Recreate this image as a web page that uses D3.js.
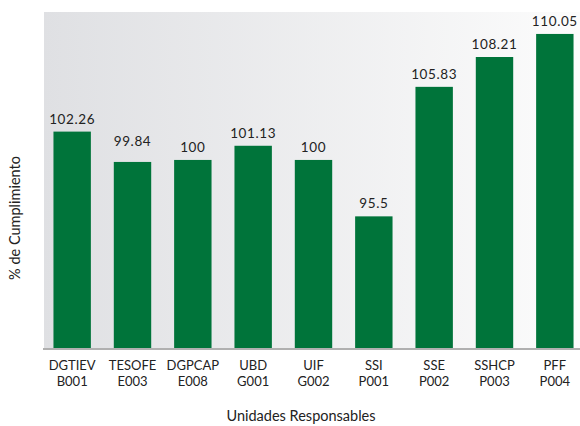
<!doctype html>
<html>
<head>
<meta charset="utf-8"/>
<script src="https://d3js.org/d3.v7.min.js"></script>
<style>
  body { margin: 0; background: #fff; }
  text { font-family: Lato, "Open Sans", sans-serif; fill: #222; }
</style>
</head>
<body>
<script>
  // datos
  var unidades = ["DGTIEV", "TESOFE", "DGPCAP", "UBD", "UIF", "SSI", "SSE", "SSHCP", "PFF"];
  var programas = ["B001", "E003", "E008", "G001", "G002", "P001", "P002", "P003", "P004"];
  var cumplimiento = [102.26, 99.84, 100, 101.13, 100, 95.5, 105.83, 108.21, 110.05];
  var etiquetas = ["102.26", "99.84", "100", "101.13", "100", "95.5", "105.83", "108.21", "110.05"];

  var svg = d3.select("body").append("svg")
    .attr("width", 580)
    .attr("height", 426);

  var defs = svg.append("defs");
  var grad = defs.append("linearGradient").attr("id", "fondo")
    .attr("x1", "0%").attr("x2", "100%").attr("y1", "0%").attr("y2", "0%");
  grad.append("stop").attr("offset", "0%").attr("stop-color", "#dfe0e3");
  grad.append("stop").attr("offset", "100%").attr("stop-color", "#fcfcfc");

  var x = d3.scaleBand()
    .domain(unidades)
    .range([42, 585])
    .paddingInner(0.38)
    .paddingOuter(0.19);

  var y = d3.scaleLinear()
    .domain([85, 111.8])
    .range([348, 12]);

  // fondo
  svg.append("rect")
    .attr("x", 44).attr("y", 12)
    .attr("width", 536).attr("height", 336)
    .attr("fill", "url(#fondo)");

  // barras
  svg.selectAll("rect.barra")
    .data(cumplimiento)
    .enter()
    .append("rect")
    .attr("class", "barra")
    .attr("x", function(d, i){ return x(unidades[i]); })
    .attr("y", function(d){ return y(d); })
    .attr("width", x.bandwidth())
    .attr("height", function(d){ return y(85) - y(d); })
    .attr("fill", "#00743a");

  // valores (la etiqueta de TESOFE va un poco más arriba en el original)
  svg.selectAll("text.valor")
    .data(cumplimiento)
    .enter()
    .append("text")
    .attr("class", "valor")
    .attr("x", function(d, i){ return x(unidades[i]) + x.bandwidth() / 2; })
    .attr("y", function(d, i){ return y(d) - (i == 1 ? 16 : 8); })
    .attr("text-anchor", "middle")
    .attr("font-size", 13.5)
    .attr("letter-spacing", 0.6)
    .text(function(d, i){ return etiquetas[i]; });

  // eje x
  svg.append("line")
    .attr("x1", 43).attr("x2", 580)
    .attr("y1", 349).attr("y2", 349)
    .attr("stroke", "#b0b0b0")
    .attr("stroke-width", 2);

  var cats = svg.selectAll("text.cat")
    .data(unidades)
    .enter()
    .append("text")
    .attr("class", "cat")
    .attr("text-anchor", "middle")
    .attr("font-size", 13);
  cats.append("tspan")
    .attr("x", function(d){ return x(d) + x.bandwidth() / 2; })
    .attr("y", 370)
    .text(function(d){ return d; });
  cats.append("tspan")
    .attr("x", function(d){ return x(d) + x.bandwidth() / 2; })
    .attr("y", 386)
    .text(function(d, i){ return programas[i]; });

  // títulos
  svg.append("text")
    .attr("x", 301).attr("y", 421)
    .attr("text-anchor", "middle")
    .attr("font-size", 14.5)
    .text("Unidades Responsables");

  svg.append("text")
    .attr("transform", "translate(20,218) rotate(-90)")
    .attr("text-anchor", "middle")
    .attr("font-size", 14.5)
    .text("% de Cumplimiento");
</script>
</body>
</html>
